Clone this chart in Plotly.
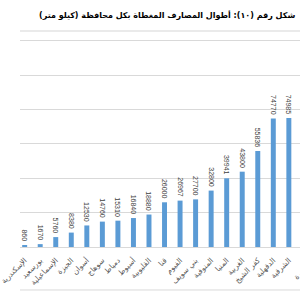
import plotly.graph_objects as go

governorates = ["الإسكندرية", "بورسعيد", "الإسماعيلية", "الجيزة", "أسوان", "سوهاج",
                "دمياط", "أسيوط", "القليوبية", "قنا", "الفيوم", "بني سويف",
                "المنوفية", "المنيا", "الغربية", "كفر الشيخ", "الدقهلية", "الشرقية"]
lengths_km = [860, 1670, 5760, 8380, 12530, 14760, 15310, 16840, 18880, 26000,
              26967, 27700, 32800, 39941, 43800, 55836, 74770, 74985]
next_label = "البحيرة"
title_text = "شكل رقم (١٠): أطوال المصارف المغطاة بكل محافظة (كيلو متر)"

fig = go.Figure(go.Bar(
    x=governorates, y=lengths_km,
    marker=dict(color="#5B9BD5", line=dict(width=0)),
    texttemplate="%{y:d}&nbsp;&nbsp;",
    textposition="outside", textangle=90, constraintext="none",
    textfont=dict(family="Liberation Sans", size=7, color="#404040"),
    cliponaxis=False,
))

step = 16.65
left = -5 / step
fig.update_layout(
    width=300, height=300,
    margin=dict(l=0, r=0, t=31, b=53),
    paper_bgcolor="white", plot_bgcolor="white",
    showlegend=False, bargap=0.68,
    font=dict(family="DejaVu Sans"),
    xaxis=dict(range=[left, left + 300 / step], tickangle=-45,
               tickfont=dict(size=7.5, color="#595959"),
               ticks="outside", ticklen=5, tickcolor="rgba(0,0,0,0)",
               showgrid=False, showline=False, zeroline=False),
    yaxis=dict(range=[0, 125600], dtick=20000, showticklabels=False,
               gridcolor="#D9D9D9", gridwidth=1, zeroline=True,
               zerolinecolor="#D9D9D9", zerolinewidth=1, showline=False),
)

fig.add_shape(type="line", xref="paper", yref="paper", x0=0, x1=1, y0=1.0, y1=1.0,
              line=dict(color="#E3E3E3", width=1.5))
fig.add_shape(type="line", xref="paper", yref="paper", x0=0, x1=1, y0=-0.199, y1=-0.199,
              line=dict(color="#D9D9D9", width=1))

fig.add_annotation(text=title_text, xref="paper", yref="paper", x=0.99, y=1.0,
                   yshift=16, xanchor="right", yanchor="middle", showarrow=False,
                   font=dict(family="DejaVu Sans", size=8, color="black", weight="bold"))

fig.add_annotation(text=next_label, xref="paper", yref="paper", x=1.06, y=-0.045,
                   xanchor="right", yanchor="top", textangle=-45, showarrow=False,
                   font=dict(family="DejaVu Sans", size=7.5, color="#595959"))

fig.write_html("out.html")
